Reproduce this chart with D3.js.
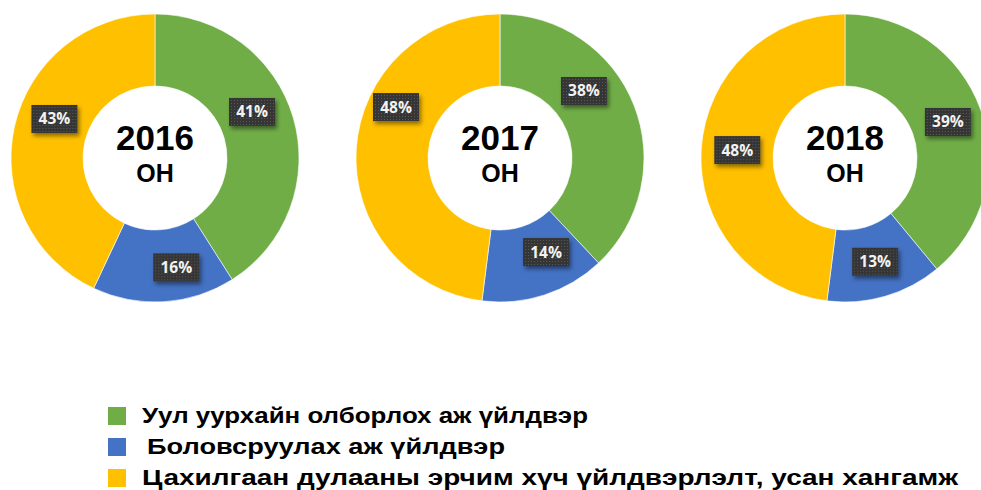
<!DOCTYPE html>
<html>
<head>
<meta charset="utf-8">
<script src="https://cdn.jsdelivr.net/npm/d3@7/dist/d3.min.js"></script>
<style>
  html, body { margin: 0; padding: 0; background: #fff; }
  svg { display: block; }
</style>
</head>
<body>
<svg id="chart" width="981" height="490"></svg>
<script>
// ---- data ----
const years = ["2016", "2017", "2018"];
const yearSuffix = "он";
const categories = [
  "Уул уурхайн олборлох аж үйлдвэр",
  "Боловсруулах аж үйлдвэр",
  "Цахилгаан дулааны эрчим хүч үйлдвэрлэлт, усан хангамж"
];
const mining = [41, 38, 39];
const manufacturing = [16, 14, 13];
const energy = [43, 48, 48];

// ---- styles / layout ----
const colors = ["#70AD47", "#4472C4", "#FFC000"];
const outerR = 144, innerR = 72, cy = 158;
// manual label placement (angle shift from slice mid-angle in degrees, radius)
const labelShift = [[-9.2, -7.4, 8.6], [-17, -8.1, 22.5], [0.5, 0, 0.6]];
const labelRadius = [[107.4, 111.4, 107.9], [107.4, 104.7, 115.8], [109, 108, 108]];
const legendX = [142, 147, 142];
const legendWidth = [446, 358, 816];

const svg = d3.select("#chart");
const defs = svg.append("defs");
const pat = defs.append("pattern").attr("id", "dots")
  .attr("width", 3).attr("height", 3).attr("patternUnits", "userSpaceOnUse");
pat.append("rect").attr("width", 3).attr("height", 3).attr("fill", "#353535");
pat.append("rect").attr("width", 1).attr("height", 1).attr("fill", "#5a5a5a");
const f = defs.append("filter").attr("id", "shadow")
  .attr("x", "-30%").attr("y", "-30%").attr("width", "170%").attr("height", "180%");
f.append("feDropShadow").attr("dx", 2).attr("dy", 3).attr("stdDeviation", 2)
  .attr("flood-color", "#000").attr("flood-opacity", 0.45);

const xScale = d3.scalePoint().domain(years).range([155, 845]);
const pie = d3.pie().sort(null).value(d => d);
const arc = d3.arc().innerRadius(innerR).outerRadius(outerR);

years.forEach((yr, i) => {
  const vals = [mining[i], manufacturing[i], energy[i]];
  const g = svg.append("g").attr("transform", `translate(${xScale(yr)},${cy})`);
  const arcs = pie(vals);
  g.selectAll("path.slice").data(arcs).join("path")
    .attr("class", "slice")
    .attr("d", arc)
    .attr("fill", (d, j) => colors[j])
    .attr("stroke", "#fff").attr("stroke-width", 0.6);

  // center text
  g.append("text").attr("text-anchor", "middle").attr("y", -8)
    .attr("font-family", "Liberation Sans, Arial, sans-serif")
    .attr("font-weight", "bold").attr("font-size", 35).attr("fill", "#000")
    .text(yr);
  g.append("text").attr("text-anchor", "middle").attr("y", 24)
    .attr("font-family", "Liberation Sans, Arial, sans-serif")
    .attr("font-weight", "bold").attr("font-size", 25).attr("fill", "#000")
    .text(yearSuffix.toUpperCase());

  // labels
  const lab = g.selectAll("g.lab").data(arcs).join("g").attr("class", "lab")
    .attr("transform", (d, j) => {
      const a = (d.startAngle + d.endAngle) / 2 + labelShift[i][j] * Math.PI / 180;
      const r = labelRadius[i][j];
      return `translate(${r * Math.sin(a)},${-r * Math.cos(a)})`;
    });
  lab.append("rect").attr("x", -23).attr("y", -14).attr("width", 46).attr("height", 28)
    .attr("fill", "url(#dots)").attr("filter", "url(#shadow)");
  lab.append("text").attr("text-anchor", "middle").attr("y", 5.5)
    .attr("font-family", "Open Sans, sans-serif").attr("font-weight", "bold")
    .attr("font-size", 15.5).attr("fill", "#f2f2f2")
    .text(d => d.data + "%");
});

// legend
const legY = d3.scaleBand().domain(categories).range([400, 493]);
const leg = svg.selectAll("g.leg").data(categories).join("g").attr("class", "leg")
  .attr("transform", d => `translate(0,${legY(d)})`);
leg.append("rect").attr("x", 108).attr("y", 7).attr("width", 18).attr("height", 18)
  .attr("fill", (d, j) => colors[j]);
leg.append("text").attr("x", (d, j) => legendX[j]).attr("y", 23)
  .attr("font-family", "Liberation Sans, Arial, sans-serif").attr("font-weight", "bold")
  .attr("font-size", 22).attr("fill", "#000")
  .attr("textLength", (d, j) => legendWidth[j])
  .attr("lengthAdjust", "spacingAndGlyphs")
  .text(d => d);
</script>
</body>
</html>
